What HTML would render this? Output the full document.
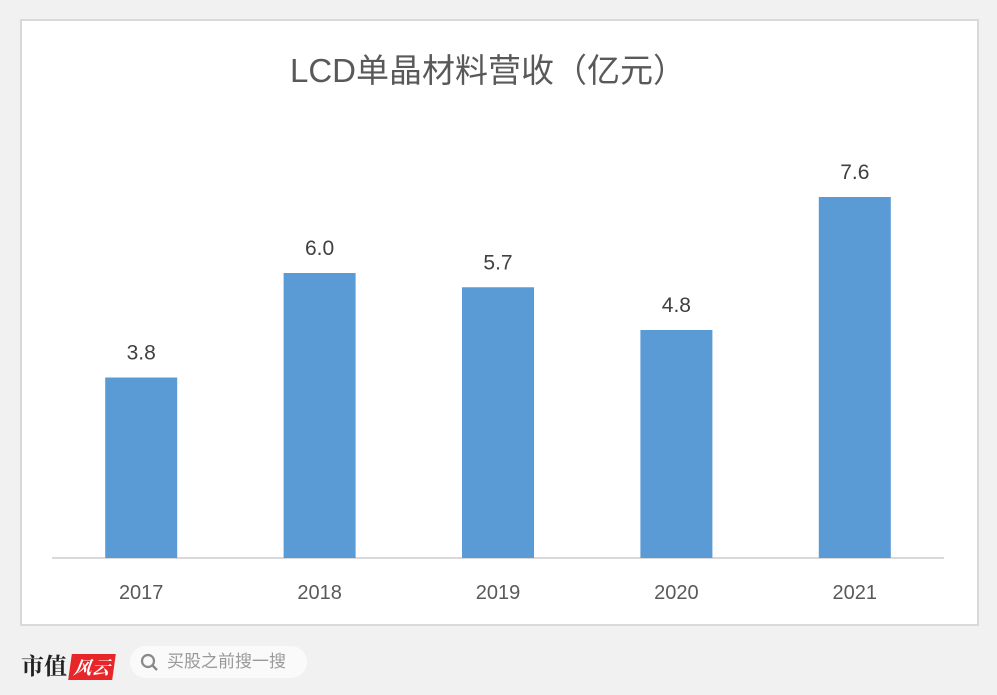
<!DOCTYPE html>
<html><head><meta charset="utf-8"><style>
body{margin:0;width:997px;height:695px;background:#f1f1f1;font-family:"Liberation Sans","Noto Sans CJK SC",sans-serif;position:relative;overflow:hidden}
#panel{position:absolute;left:20px;top:19px;width:955px;height:603px;background:#fff;border:2px solid #d9d9d9}
</style></head><body>
<div id="panel"></div>
<svg id="chart" width="997" height="695" style="position:absolute;left:0;top:0">
<text x="488" y="82" text-anchor="middle" font-size="33" fill="#595959" font-family="Liberation Sans,Noto Sans CJK SC,sans-serif">LCD单晶材料营收（亿元）</text>
<line x1="52" x2="944" y1="558" y2="558" stroke="#d9d9d9" stroke-width="2"/>
<g id="bars"></g>
</svg>
<div style="position:absolute;left:21px;top:648px;font-size:23px;font-weight:bold;color:#222;font-family:'Noto Serif CJK SC',serif">市值<span style="display:inline-block;background:#e8262a;color:#fff;font-size:18px;padding:0 4px;margin-left:3px;font-style:italic;transform:skewX(-8deg)">风云</span></div>
<div style="position:absolute;left:130px;top:646px;width:177px;height:32px;border-radius:16px;background:#fafafa;color:#999;font-size:17px;line-height:32px">
<svg width="20" height="20" style="position:absolute;left:10px;top:7px"><circle cx="8" cy="8" r="6" fill="none" stroke="#888" stroke-width="2.2"/><line x1="12.5" y1="12.5" x2="17" y2="17" stroke="#888" stroke-width="2.4"/></svg>
<span style="position:absolute;left:37px">买股之前搜一搜</span></div>
<script>
const categories=["2017","2018","2019","2020","2021"];
const values=[3.8,6.0,5.7,4.8,7.6];
const labels=["3.8","6.0","5.7","4.8","7.6"];
const ns="http://www.w3.org/2000/svg";
const g=document.getElementById("bars");
const x0=52,plotW=892,base=558,scale=47.5,bw=72;
function xC(i){return x0+plotW/categories.length*(i+0.5);}
function yV(v){return base-v*scale;}
categories.forEach((c,i)=>{
const r=document.createElementNS(ns,"rect");


r.setAttribute("x",xC(i)-bw/2);r.setAttribute("y",yV(values[i]));
r.setAttribute("width",bw);r.setAttribute("height",base-yV(values[i]));
r.setAttribute("fill","#5b9bd5");g.appendChild(r);
const t=document.createElementNS(ns,"text");


t.setAttribute("x",xC(i));t.setAttribute("y",yV(values[i])-18);
t.setAttribute("text-anchor","middle");t.setAttribute("font-size","21");t.setAttribute("fill","#404040");
t.textContent=labels[i];g.appendChild(t);
const l=document.createElementNS(ns,"text");


l.setAttribute("x",xC(i));l.setAttribute("y",599);
l.setAttribute("text-anchor","middle");l.setAttribute("font-size","20");l.setAttribute("fill","#595959");
l.textContent=c;g.appendChild(l);
});
</script>
</body></html>
